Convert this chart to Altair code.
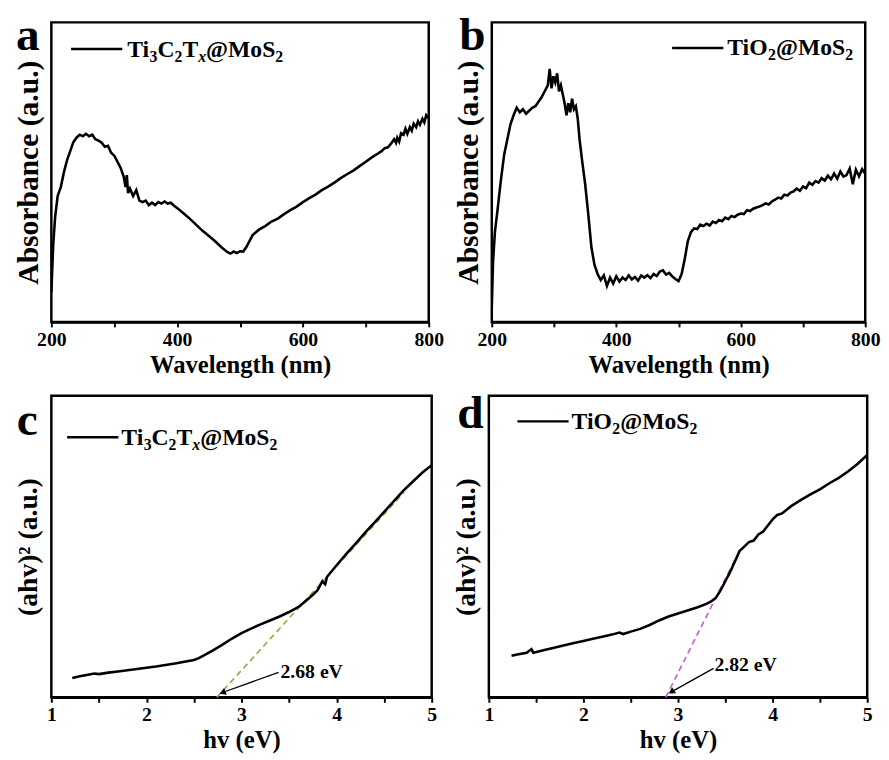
import altair as alt
import pandas as pd

FONT = "Liberation Serif"

# ---------------- data ----------------
a_wl = [200,203,206,210,215,220,225,230,235,240,245,250,255,260,265,270,275,280,285,290,295,300,305,310,315,318,320,322,325,330,335,340,345,350,355,360,365,370,375,380,385,390,395,400,410,420,430,440,450,460,470,480,485,490,495,500,505,510,515,520,530,540,550,560,570,580,590,600,610,620,630,640,650,660,670,680,690,700,710,720,725,730,735,740,745,748,750,753,756,760,763,766,770,773,776,780,783,786,790,793,796,800]
a_abs = [10,26,35,42,45,50,54,57,60,61.5,62.5,62,62.8,62,62.5,61,60.5,59.8,58.5,58.8,56.5,55.5,53.5,51.5,48.5,45,49,43,44.5,42,44,40.5,40,40.5,39,39.8,39,40,39.5,40.2,39.5,39.8,38.8,38,36.3,34.5,32.5,30.5,28.8,27,25,23.3,22.8,23.5,23,23.6,23.5,25,27,29,30.8,32,33.5,34.5,36,37.3,38.5,40,41.3,42.5,44,45.2,46.5,48,49.3,50.5,52,53.5,55,56.3,57,58,58.3,59.5,61,59.8,61.5,60.2,63,62.5,64.5,62.8,65,63.8,66.2,65,67,65.8,67.8,66.6,69,68]

b_wl = [200,202,205,209,215,220,225,230,235,240,245,250,255,260,265,270,275,280,285,290,293,296,299,302,305,308,311,314,317,320,323,326,329,332,335,338,341,345,350,355,360,365,370,375,380,385,390,395,400,405,410,415,420,425,430,435,440,445,450,455,460,465,470,475,480,485,490,495,500,505,510,515,520,525,530,535,540,545,550,555,560,565,570,575,580,585,590,595,600,605,610,615,620,625,630,635,640,645,650,655,660,665,670,675,680,685,690,695,700,705,710,715,720,725,730,735,740,745,750,755,760,765,770,775,780,785,790,795,800]
b_abs = [5,20,30,37,48,56,61,66,69,71.5,70,71,69.5,70.5,71.5,72,73.5,75,77,79,84.5,78,82,80,83,77,79,76,73,69,73,70,74.5,71,72,68,61,54,46,36,25,19,16,14,15.5,12,14.8,12.8,15.2,13.5,14.8,14,15.5,14.2,15,13.8,15.5,14.8,15.6,14.6,16,15.3,16.8,17.2,15.8,16.4,15.2,14.3,13.6,16,21,27,30,31.2,31,32.5,32,32.8,32.2,33.5,33,34,33.6,34.8,34.3,35.4,35,35.8,36.2,36,37.3,37,37.8,38.2,38.5,39,39.6,39.2,40.2,40.8,41.5,41.2,42.5,42.2,43.2,43.6,44.5,43.8,45.2,44.6,46.5,45.8,47,46.5,48,47.2,48.8,47.6,49.5,47.8,50.2,48.5,49,51.2,46,50.8,48.6,51,49.5]

c_hv = [1.22,1.30,1.40,1.45,1.50,1.60,1.70,1.80,1.90,2.00,2.10,2.20,2.30,2.40,2.50,2.55,2.60,2.70,2.80,2.90,3.00,3.10,3.20,3.30,3.40,3.50,3.60,3.70,3.75,3.80,3.85,3.88,3.90,4.00,4.10,4.20,4.30,4.40,4.50,4.60,4.70,4.80,4.90,5.00]
c_val = [6.4,7,7.6,7.9,7.7,8.2,8.6,9,9.4,9.8,10.2,10.7,11.2,11.8,12.4,13,13.8,15.6,17.5,19.5,21.3,22.8,24.2,25.5,26.8,28.3,30,32.6,34,35.5,38.5,37.5,40,43.8,47.5,51,54.6,58,61.5,65,68.5,71.5,74.5,77]

d_hv = [1.24,1.30,1.40,1.45,1.47,1.60,1.70,1.80,1.90,2.00,2.10,2.20,2.30,2.38,2.42,2.50,2.60,2.70,2.80,2.90,3.00,3.10,3.20,3.30,3.35,3.40,3.45,3.50,3.55,3.60,3.65,3.70,3.75,3.80,3.85,3.90,3.95,4.00,4.05,4.10,4.20,4.30,4.40,4.50,4.60,4.70,4.80,4.90,5.00]
d_val = [13.8,14.2,14.8,16,14.8,15.8,16.5,17.3,18,18.7,19.4,20.1,20.8,21.5,21,21.8,22.7,24,25.5,26.8,27.8,28.8,29.8,31,31.8,33,35.5,38.5,41.5,45,48.5,50,51.5,52,54,55,57,59,60.5,61,63.5,65.5,67.3,69,71,72.8,75,77.5,80.4]

# Tauc extrapolation lines and gap annotations
c_fit_x = [2.74, 4.71]
c_fit_y = [0, 68]
d_fit_x = [2.87, 3.60]
d_fit_y = [0, 45.6]
c_label = "2.68 eV"
d_label = "2.82 eV"
c_arrow_x = [3.39, 2.80]
c_arrow_y = [8.3, 1.6]
d_arrow_x = [3.375, 2.93]
d_arrow_y = [9.6, 1.8]
c_text_pos = (3.41, 6.4)
d_text_pos = (3.385, 8.7)

wl_ticks = [200, 300, 400, 500, 600, 700, 800]
hv_ticks = [1, 1.5, 2, 2.5, 3, 3.5, 4, 4.5, 5]

# ---------------- helpers ----------------
F_LEG, F_SUB = 24, 16
F_LET = 48
EM = {"T": .667, "i": .278, "C": .722, "O": .778, "@": .930, "M": .944,
      "o": .5, "S": .556, "x": .5}


def piece_width(s, size):
    return sum(EM.get(ch, .5) for ch in s) * size


def legend(x0, y_line, x_text, y_base, pieces):
    layers = [alt.Chart(pd.DataFrame({"k": [0]})).mark_rule(color="black", strokeWidth=2.4)
              .encode(x=alt.value(x0), x2=alt.value(x0 + 52), y=alt.value(y_line))]
    x = x_text
    for txt, sub, ital in pieces:
        size = F_SUB if sub else F_LEG
        layers.append(
            alt.Chart(pd.DataFrame({"t": [txt]})).mark_text(
                font=FONT, fontWeight="bold", fontSize=size, align="left",
                baseline="alphabetic", color="black",
                fontStyle="italic" if ital else "normal")
            .encode(text="t:N", x=alt.value(x), y=alt.value(y_base + (5 if sub else 0))))
        x += piece_width(txt, size)
    return layers


def letter(ch, x, y):
    return alt.Chart(pd.DataFrame({"t": [ch]})).mark_text(
        font=FONT, fontWeight="bold", fontSize=F_LET, align="left",
        baseline="alphabetic", color="black").encode(
        text="t:N", x=alt.value(x), y=alt.value(y))


TI3 = [("Ti", False, False), ("3", True, False), ("C", False, False), ("2", True, False),
       ("T", False, False), ("x", True, True), ("@MoS", False, False), ("2", True, False)]
TIO2 = [("TiO", False, False), ("2", True, False), ("@MoS", False, False), ("2", True, False)]


def xaxis(title, ticks, major_expr):
    return alt.Axis(title=title, values=ticks, labelExpr=major_expr, labelFlush=False,
                    labelOverlap=False, labelPadding=3, titlePadding=3, ticks=True,
                    tickSize=5, tickWidth=2)


def yaxis(title, size, pad):
    return alt.Axis(title=title, labels=False, ticks=False, domain=False, titlePadding=pad,
                    titleFontSize=size)


def uv_panel(wl, ab, let, let_pos, leg, w, h):
    df = pd.DataFrame({"wl": wl, "ab": ab})
    x = alt.X("wl:Q", scale=alt.Scale(domain=[200, 800], nice=False, zero=False),
              axis=xaxis("Wavelength (nm)", wl_ticks, "datum.value % 200 == 0 ? datum.label : ''"))
    y = alt.Y("ab:Q", scale=alt.Scale(domain=[0, 100], nice=False),
              axis=yaxis("Absorbance (a.u.)", 30, 8))
    line = alt.Chart(df).mark_line(color="black", strokeWidth=2.6, clip=True).encode(x=x, y=y)
    return alt.layer(line, letter(let, *let_pos), *leg).properties(width=w, height=h)


def tauc_panel(hv, val, fit_x, fit_y, fit_color, label, tpos, ax, ay, angle, let, let_pos, leg, w, h):
    df = pd.DataFrame({"hv": hv, "v": val})
    sx = alt.Scale(domain=[1, 5], nice=False, zero=False)
    sy = alt.Scale(domain=[0, 100], nice=False)
    x = alt.X("hv:Q", scale=sx,
              axis=xaxis("hv (eV)", hv_ticks,
                         "datum.value % 1 == 0 ? format(datum.value, 'd') : ''"))
    y = alt.Y("v:Q", scale=sy, axis=yaxis("(ahv)² (a.u.)", 28, 9))
    line = alt.Chart(df).mark_line(color="black", strokeWidth=2.6, clip=True).encode(x=x, y=y)
    fit = alt.Chart(pd.DataFrame({"hv": fit_x, "v": fit_y})).mark_line(
        color=fit_color, strokeWidth=1.6, strokeDash=[6, 4]).encode(x="hv:Q", y="v:Q")
    arr = alt.Chart(pd.DataFrame({"hv": ax, "v": ay})).mark_line(
        color="black", strokeWidth=1.3).encode(x="hv:Q", y="v:Q")
    head = alt.Chart(pd.DataFrame({"hv": [ax[1]], "v": [ay[1]]})).mark_point(
        shape="triangle-up", filled=True, color="black", size=55, angle=angle, opacity=1).encode(
        x="hv:Q", y="v:Q")
    txt = alt.Chart(pd.DataFrame({"hv": [tpos[0]], "v": [tpos[1]], "t": [label]})).mark_text(
        font=FONT, fontWeight="bold", fontSize=20, align="left", baseline="alphabetic",
        color="black").encode(x="hv:Q", y="v:Q", text="t:N")
    return alt.layer(fit, line, arr, head, txt, letter(let, *let_pos), *leg).properties(
        width=w, height=h)


pa = uv_panel(a_wl, a_abs, "a", (-36, 28), legend(20, 27, 77, 35, TI3), 383, 304)
pb = uv_panel(b_wl, b_abs, "b", (-33, 28), legend(183, 26, 239, 33, TIO2), 379, 304)
pc = tauc_panel(c_hv, c_val, c_fit_x, c_fit_y, "#9aa53a", c_label, c_text_pos,
                c_arrow_x, c_arrow_y, 248, "c", (-35, 40), legend(16, 42, 71, 50, TI3), 386, 306)
pd_ = tauc_panel(d_hv, d_val, d_fit_x, d_fit_y, "#cc55dd", d_label, d_text_pos,
                 d_arrow_x, d_arrow_y, 238, "d", (-32, 33), legend(29, 26, 84, 34, TIO2), 384, 306)

top = alt.hconcat(pa, pb, spacing=7)
bottom = alt.hconcat(pc, pd_, spacing=12)

chart = alt.vconcat(top, bottom, spacing=10).properties(
    padding={"left": 4, "top": -3, "right": -1, "bottom": 0}
).configure(background="white").configure_view(
    stroke="black", strokeWidth=2.5
).configure_axis(
    labelFont=FONT, labelFontWeight="bold", labelFontSize=20, labelColor="black",
    titleFont=FONT, titleFontWeight="bold", titleFontSize=25, titleColor="black",
    tickColor="black", domainColor="black", domainWidth=2.5, grid=False
)

chart.save("out.html", embed_options={"renderer": "svg", "actions": False})
